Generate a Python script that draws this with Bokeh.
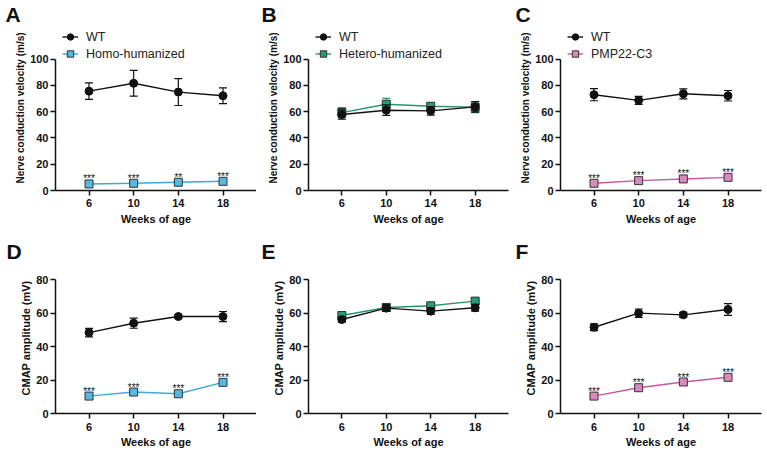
from bokeh.plotting import figure
from bokeh.layouts import column, row
from bokeh.models import Legend, LegendItem, FixedTicker, Range1d, Title
from bokeh.core.properties import value
from bokeh.embed import file_html
from bokeh.resources import INLINE

weeks = [6, 10, 14, 18]
week_ticks = [6, 10, 14, 18]
ncv_ticks = [0, 20, 40, 60, 80, 100]
cmap_ticks = [0, 20, 40, 60, 80]

# Panel A: nerve conduction velocity, WT vs Homo-humanized
a_wt = [75.6, 81.6, 74.9, 72.1]
a_wt_err = [6.3, 9.8, 10.2, 6.0]
a_mut = [5.0, 5.5, 6.3, 7.0]
a_mut_err = [0.8, 0.8, 0.9, 0.9]
a_sig = ["***", "***", "**", "***"]

# Panel B: nerve conduction velocity, WT vs Hetero-humanized
b_wt = [57.8, 61.1, 60.6, 63.6]
b_wt_err = [3.5, 4.0, 3.3, 4.0]
b_mut = [59.3, 65.6, 64.1, 63.3]
b_mut_err = [3.7, 4.5, 2.5, 4.0]
b_sig = ["", "", "", ""]

# Panel C: nerve conduction velocity, WT vs PMP22-C3
c_wt = [72.9, 68.6, 73.6, 72.1]
c_wt_err = [4.6, 3.0, 3.8, 4.0]
c_mut = [5.5, 7.5, 8.8, 10.0]
c_mut_err = [0.8, 0.8, 0.8, 0.8]
c_sig = ["***", "***", "***", "***"]

# Panel D: CMAP amplitude, WT vs Homo-humanized
d_wt = [48.3, 53.9, 57.9, 57.9]
d_wt_err = [2.5, 3.0, 1.0, 3.0]
d_mut = [10.4, 12.8, 11.8, 18.6]
d_mut_err = [1.0, 1.2, 1.0, 1.5]
d_sig = ["***", "***", "***", "***"]

# Panel E: CMAP amplitude, WT vs Hetero-humanized
e_wt = [56.1, 62.9, 61.1, 63.1]
e_wt_err = [1.5, 2.0, 2.0, 2.0]
e_mut = [58.5, 63.3, 64.3, 67.1]
e_mut_err = [2.0, 2.0, 1.5, 1.5]
e_sig = ["", "", "", ""]

# Panel F: CMAP amplitude, WT vs PMP22-C3
f_wt = [51.5, 59.9, 58.9, 62.1]
f_wt_err = [2.0, 2.5, 1.5, 3.5]
f_mut = [10.4, 15.4, 18.8, 21.6]
f_mut_err = [1.0, 1.0, 1.0, 1.2]
f_sig = ["***", "***", "***", "***"]

FONT = "Liberation Sans"
WT_COLOR = "#111111"
BLUE_LINE, BLUE_FILL = "#3ea8dc", "#56b9e2"
GREEN_LINE, GREEN_FILL = "#27966c", "#1f9e78"
PINK_LINE, PINK_FILL = "#c8579e", "#d98abc"

FIG_H = 227


def make_panel(letter, wt, wt_err, mut, mut_err, sig, mut_name, line_c, fill_c,
               ylabel, ymax, yticks, width, left, right, axis_top, axis_bottom,
               frame_top, tick_standoff, label_standoff, show_legend):
    # axis_top / axis_bottom: pixel rows (from figure top) of the y-axis ends
    px_per_unit = (axis_bottom - axis_top) / ymax
    y_top = (axis_bottom - frame_top) / px_per_unit
    p = figure(width=width, height=FIG_H, output_backend="svg", toolbar_location=None,
               x_range=Range1d(3, 21), y_range=Range1d(0, y_top),
               min_border_left=left, min_border_right=right,
               min_border_top=frame_top, min_border_bottom=FIG_H - axis_bottom)
    p.outline_line_color = None
    p.grid.visible = False
    p.background_fill_color = "white"
    p.border_fill_color = "white"

    for ax in (p.xaxis[0], p.yaxis[0]):
        ax.axis_line_width = 1.5
        ax.axis_line_color = "#111111"
        ax.major_tick_line_width = 1.5
        ax.major_tick_line_color = "#111111"
        ax.major_tick_out = 5
        ax.major_tick_in = 0
        ax.minor_tick_line_color = None
        ax.major_label_text_font = FONT
        ax.major_label_text_font_style = "bold"
        ax.major_label_text_font_size = "11px"
        ax.major_label_text_color = "#111111"
        ax.axis_label_text_font = FONT
        ax.axis_label_text_font_style = "bold"
        ax.axis_label_text_color = "#111111"

    p.yaxis.bounds = (0, ymax)
    p.xaxis.ticker = FixedTicker(ticks=week_ticks)
    p.yaxis.ticker = FixedTicker(ticks=yticks)
    p.xaxis.axis_label = "Weeks of age"
    p.xaxis.axis_label_text_font_size = "11px"
    p.xaxis.major_label_standoff = tick_standoff
    p.xaxis.axis_label_standoff = label_standoff
    p.yaxis.major_label_standoff = 2
    p.yaxis.axis_label = ylabel
    p.yaxis.axis_label_text_font_size = "10px" if ymax == 100 else "11px"
    p.yaxis.axis_label_standoff = 1

    def series(vals, errs, lc, fc, marker, mline):
        lo = [v - e for v, e in zip(vals, errs)]
        hi = [v + e for v, e in zip(vals, errs)]
        ln = p.line(weeks, vals, line_color=lc, line_width=1.4)
        p.segment(x0=weeks, y0=lo, x1=weeks, y1=hi, line_color=lc, line_width=1.2)
        p.scatter(weeks, hi, marker="dash", size=8, line_color=lc, line_width=1.2)
        p.scatter(weeks, lo, marker="dash", size=8, line_color=lc, line_width=1.2)
        sc = p.scatter(weeks, vals, marker=marker, size=8, fill_color=fc,
                       line_color=mline, line_width=1)
        return ln, sc

    ml, ms = series(mut, mut_err, line_c, fill_c, "square", "#333333")
    wl, ws = series(wt, wt_err, WT_COLOR, WT_COLOR, "circle", WT_COLOR)

    p.text(weeks, mut, text=sig, text_font=value(FONT), text_font_size="10px",
           text_align="center", text_baseline="alphabetic", y_offset=-5,
           text_color="#111111")

    fh = axis_bottom - frame_top
    if show_legend:
        legend = Legend(items=[LegendItem(label="WT", renderers=[wl, ws]),
                               LegendItem(label=mut_name, renderers=[ml, ms])],
                        location=(7, fh - 39), padding=0, margin=0, spacing=0,
                        glyph_width=16, glyph_height=17, label_height=17,
                        label_standoff=8, border_line_color=None,
                        background_fill_alpha=0,
                        label_text_font=FONT, label_text_font_size="12.5px",
                        label_text_color="#222222")
        p.add_layout(legend, "center")

    letter_x = {"A": 5, "B": 261, "C": 515, "D": 6, "E": 261, "F": 515}[letter]
    page_left = {"A": 0, "B": 256, "C": 511, "D": 0, "E": 256, "F": 511}[letter]
    p.title = Title(text=letter, align="left", offset=letter_x - page_left - left,
                    text_font=FONT, text_font_size="21px", text_font_style="bold",
                    text_color="#111111", standoff=0)
    return p


NCV = "Nerve conduction velocity (m/s)"
CMAP = "CMAP amplitude (mV)"

pa = make_panel("A", a_wt, a_wt_err, a_mut, a_mut_err, a_sig, "Homo-humanized", BLUE_LINE, BLUE_FILL,
                NCV, 100, ncv_ticks, 256, 55, 0, 58, 191, 24, 3, 3, True)
pb = make_panel("B", b_wt, b_wt_err, b_mut, b_mut_err, b_sig, "Hetero-humanized", GREEN_LINE, GREEN_FILL,
                NCV, 100, ncv_ticks, 255, 52, 3, 58, 191, 24, 3, 3, True)
pc = make_panel("C", c_wt, c_wt_err, c_mut, c_mut_err, c_sig, "PMP22-C3", PINK_LINE, PINK_FILL,
                NCV, 100, ncv_ticks, 256, 49, 6, 58, 191, 24, 3, 3, True)
pd_ = make_panel("D", d_wt, d_wt_err, d_mut, d_mut_err, d_sig, "Homo-humanized", BLUE_LINE, BLUE_FILL,
                 CMAP, 80, cmap_ticks, 256, 55, 0, 52, 186, 35, 4, 2, False)
pe = make_panel("E", e_wt, e_wt_err, e_mut, e_mut_err, e_sig, "Hetero-humanized", GREEN_LINE, GREEN_FILL,
                CMAP, 80, cmap_ticks, 255, 52, 3, 52, 186, 35, 4, 2, False)
pf = make_panel("F", f_wt, f_wt_err, f_mut, f_mut_err, f_sig, "PMP22-C3", PINK_LINE, PINK_FILL,
                CMAP, 80, cmap_ticks, 256, 49, 6, 52, 186, 35, 4, 2, False)

layout = column(row(pa, pb, pc, spacing=0), row(pd_, pe, pf, spacing=0), spacing=0)

with open("out.html", "w") as fh_:
    fh_.write(file_html(layout, INLINE))
